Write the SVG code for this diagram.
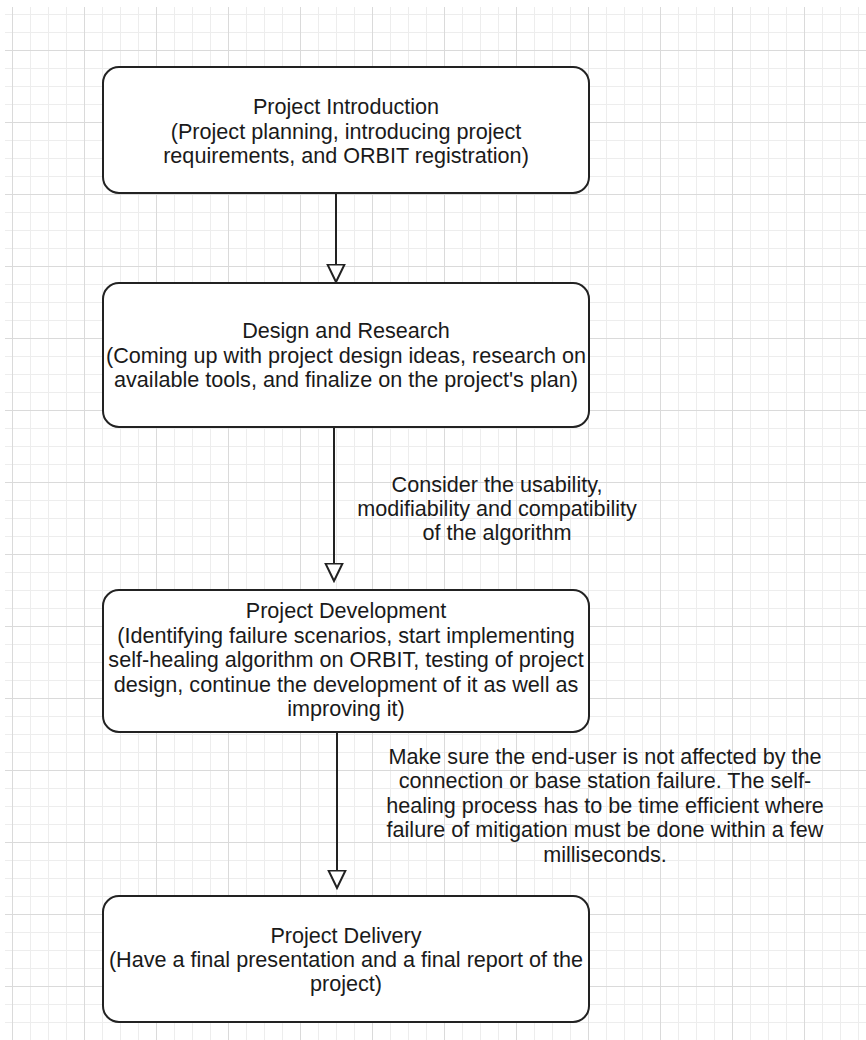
<svg xmlns="http://www.w3.org/2000/svg" width="866" height="1040" viewBox="0 0 866 1040">
  <style>
    .node rect { fill: #ffffff; stroke: #222222; stroke-width: 2; }
    .txt { font-family: "Liberation Sans", Arial, sans-serif; font-size: 21.6px; fill: #1a1a1a; text-anchor: middle; }
    .edge { stroke: #222222; stroke-width: 2; fill: none; marker-end: url(#openTri); }
  </style>
  <defs>
    <pattern id="grid" x="12" y="-22" width="72" height="72" patternUnits="userSpaceOnUse">
      <path d="M0,18.5 H72 M0,36.5 H72 M0,54.5 H72 M18.5,0 V72 M36.5,0 V72 M54.5,0 V72" stroke="#ededed" stroke-width="1" fill="none"/>
      <path d="M0,0.5 H72 M0.5,0 V72" stroke="#dadada" stroke-width="1" fill="none"/>
    </pattern>
    <marker id="openTri" viewBox="0 0 20 20" markerWidth="20" markerHeight="20" markerUnits="userSpaceOnUse" refX="18.5" refY="10" orient="auto">
      <path d="M1,1.5 L18.5,10 L1,18.5 Z" fill="#ffffff" stroke="#222222" stroke-width="2" stroke-linejoin="miter"/>
    </marker>
  </defs>

  <rect x="0" y="0" width="866" height="1040" fill="#ffffff"/>
  <rect x="5" y="7" width="861" height="1033" fill="url(#grid)"/>

  <g id="connectors">
    <path class="edge" d="M336,193 V282"/>
    <path class="edge" d="M334,427 V581"/>
    <path class="edge" d="M337,732 V888"/>
    <text class="txt" x="497" y="492">Consider the usability,</text>
    <text class="txt" x="497" y="516">modifiability and compatibility</text>
    <text class="txt" x="497" y="540">of the algorithm</text>
    <text class="txt" x="605" y="764">Make sure the end-user is not affected by the</text>
    <text class="txt" x="605" y="788">connection or base station failure. The self-</text>
    <text class="txt" x="605" y="813">healing process has to be time efficient where</text>
    <text class="txt" x="605" y="837">failure of mitigation must be done within a few</text>
    <text class="txt" x="605" y="862">milliseconds.</text>
  </g>

  <g id="node-introduction" class="node">
    <rect x="103" y="67" width="486" height="126" rx="16" ry="16"/>
    <text class="txt" x="346" y="114">Project Introduction</text>
    <text class="txt" x="346" y="139">(Project planning, introducing project</text>
    <text class="txt" x="346" y="163">requirements, and ORBIT registration)</text>
  </g>

  <g id="node-design" class="node">
    <rect x="103" y="283" width="486" height="144" rx="16" ry="16"/>
    <text class="txt" x="346" y="338">Design and Research</text>
    <text class="txt" x="346" y="363">(Coming up with project design ideas, research on</text>
    <text class="txt" x="346" y="387">available tools, and finalize on the project's plan)</text>
  </g>

  <g id="node-development" class="node">
    <rect x="103" y="590" width="486" height="142" rx="16" ry="16"/>
    <text class="txt" x="346" y="618">Project Development</text>
    <text class="txt" x="346" y="642.5">(Identifying failure scenarios, start implementing</text>
    <text class="txt" x="346" y="667">self-healing algorithm on ORBIT, testing of project</text>
    <text class="txt" x="346" y="691.5">design, continue the development of it as well as</text>
    <text class="txt" x="346" y="716">improving it)</text>
  </g>

  <g id="node-delivery" class="node">
    <rect x="103" y="896" width="486" height="126" rx="16" ry="16"/>
    <text class="txt" x="346" y="943">Project Delivery</text>
    <text class="txt" x="346" y="967">(Have a final presentation and a final report of the</text>
    <text class="txt" x="346" y="991">project)</text>
  </g>
</svg>
